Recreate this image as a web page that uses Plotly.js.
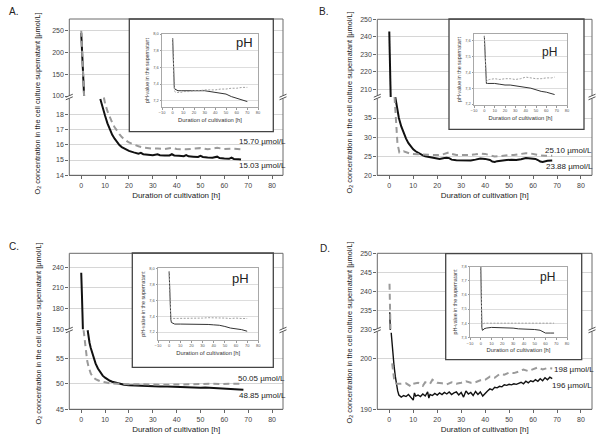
<!DOCTYPE html>
<html><head><meta charset="utf-8">
<script src="https://cdn.plot.ly/plotly-3.0.1.min.js"></script>
<style>html,body{margin:0;padding:0;background:#fff}#chart{width:600px;height:446px}</style>
</head><body><div id="chart"></div>
<script>
// ---------------- DATA ----------------
const xTicks = [0, 10, 20, 30, 40, 50, 60, 70, 80];
const insetXTicks = [-10, 0, 10, 20, 30, 40, 50, 60, 70, 80];
const yTicksLower = [[14, 15, 16, 17, 18], [20, 25, 30, 35], [45, 50, 55], [190, 200]];
const yTicksUpper = [[100, 150, 200, 250], [210, 220, 230, 240, 250], [150, 180, 210, 240], [230, 235, 240, 245, 250]];
const pHTicks = [[7.2, 7.4, 7.6, 7.8, 8.0], [7.2, 7.3, 7.4, 7.5, 7.6], [7.2, 7.4, 7.6, 7.8, 8.0], [7.3, 7.4, 7.5, 7.6, 7.7, 7.8]];
const panelLetters = ['A.', 'B.', 'C.', 'D.'];
const endLabels = [['15.70 µmol/L', '15.03 µmol/L'], ['25.10 µmol/L', '23.88 µmol/L'], ['50.05 µmol/L', '48.85 µmol/L'], ['198 µmol/L', '196 µmol/L']];
const xTitle = 'Duration of cultivation [h]';
const yTitle = 'O<sub>2</sub> concentration in the cell culture supernatant [µmol/L]';
const insetYTitle = 'pH-value in the supernatant';

// Panel A – O2
const tA_black = [0, 0.4, 0.8, 1.2, null, 8, 9, 10, 11, 12, 13, 14, 15, 16, 17, 18, 19, 20, 22, 24, 25, 26, 28, 30, 32, 33, 35, 37, 38, 39, 41, 43, 44, 45, 47, 49, 50, 51, 53, 55, 57, 58, 60, 62, 63, 64, 66, 67];
const oA_black = [245, 205, 150, 100, null, 19.0, 18.4, 17.9, 17.4, 17.0, 16.65, 16.4, 16.15, 15.98, 15.85, 15.75, 15.68, 15.6, 15.5, 15.42, 15.47, 15.38, 15.35, 15.32, 15.38, 15.32, 15.3, 15.3, 15.38, 15.3, 15.28, 15.25, 15.32, 15.24, 15.22, 15.2, 15.28, 15.2, 15.17, 15.15, 15.22, 15.13, 15.1, 15.08, 15.16, 15.07, 15.05, 15.03];
const tA_grey = [0, 0.4, 0.8, 1.2, null, 9.5, 10, 11, 12, 13, 14, 15, 16, 17, 18, 19, 20, 22, 24, 26, 28, 30, 32, 35, 38, 40, 44, 47, 50, 53, 57, 60, 63, 67];
const oA_grey = [250, 210, 155, 100, null, 19.1, 18.7, 18.2, 17.8, 17.45, 17.15, 16.9, 16.7, 16.5, 16.35, 16.25, 16.15, 16.0, 15.9, 15.82, 15.78, 15.75, 15.75, 15.72, 15.8, 15.72, 15.7, 15.72, 15.78, 15.7, 15.8, 15.72, 15.75, 15.7];

// Panel B – O2
const tB_black = [0, 0.2, 0.3, 0.6, null, 2.5, 3, 3.5, 4, 5, 6, 7, 8, 9, 10, 11, 12, 13, 14, 15, 17, 19, 21, 23, 24, 25, 26, 28, 30, 32, 34, 36, 38, 40, 42, 43, 44, 45, 47, 49, 51, 53, 55, 57, 59, 61, 62, 63, 64, 65, 66, 68];
const oB_black = [243, 232, 228, 205, null, 40.5, 38.5, 36.5, 35, 32.8, 31, 29.6, 28.4, 27.5, 26.8, 26.3, 25.9, 25.5, 25.2, 25.0, 24.7, 24.4, 24.3, 24.5, 24.6, 24.5, 24.1, 23.95, 23.9, 24.0, 23.85, 24.1, 24.4, 24.3, 24.0, 23.6, 23.5, 23.7, 23.9, 24.0, 24.1, 24.0, 24.2, 24.5, 24.4, 24.3, 24.0, 23.6, 23.5, 23.7, 23.8, 23.88];
const tB_grey = [2.2, 2.8, 3.4, 4.2, 5, 6, 7, 9, 12, 15, 18, 20, 22, 24, 25, 26, 28, 30, 33, 36, 38, 40, 42, 44, 46, 48, 50, 52, 55, 57, 59, 61, 63, 65, 68];
const oB_grey = [40.5, 34, 28.4, 26.0, 26.0, 26.3, 26.0, 25.6, 25.5, 25.4, 25.3, 25.3, 25.4, 25.9, 26.0, 25.6, 25.3, 25.3, 25.3, 25.5, 25.7, 25.6, 25.3, 24.9, 25.0, 25.2, 25.3, 25.3, 25.5, 25.8, 25.7, 25.4, 25.2, 25.1, 25.1];

// Panel C – O2
const tC_black = [0, 0.15, 0.3, 0.5, 0.7, null, 2.7, 3, 3.5, 4, 5, 6, 7, 8, 9, 10, 11, 12, 13, 14, 15, 16, 18, 20, 22, 25, 28, 30, 33, 36, 38, 39, 40, 42, 45, 48, 50, 52, 55, 58, 60, 63, 65, 68];
const oC_black = [232, 222, 200, 175, 150, null, 60.5, 59.3, 58.0, 57.0, 55.3, 54.0, 53.0, 52.2, 51.6, 51.2, 50.85, 50.6, 50.4, 50.25, 50.1, 50.0, 49.8, 49.7, 49.65, 49.6, 49.55, 49.5, 49.47, 49.45, 49.4, 49.5, 49.37, 49.38, 49.3, 49.28, 49.25, 49.26, 49.2, 49.12, 49.1, 49.0, 48.95, 48.85];
const tC_grey = [1.0, 1.5, 2, 2.5, 3, 3.5, 4, 5, 6, 7, 8, 10, 12, 15, 18, 20, 22, 25, 28, 30, 33, 36, 38, 40, 43, 46, 49, 52, 55, 58, 61, 64, 68];
const oC_grey = [60.5, 58, 56, 54.5, 53.5, 52.6, 52.0, 51.3, 50.9, 50.7, 50.5, 50.3, 50.1, 50.0, 49.9, 49.85, 49.9, 49.9, 49.85, 49.8, 49.85, 49.8, 49.85, 49.9, 49.85, 49.9, 49.95, 49.9, 50.0, 49.95, 50.0, 49.95, 50.05];

// Panel D – O2
const tD_black = [0.2, 0.3, 0.45, null, 0.8, 1.2, 1.6, 2, 2.5, 3, 3.5, 4, 5, 6, 7, 8, 9, 10, 10.5, 11, 12, 13, 14, 15, 16, 16.5, 17, 18, 19, 20, 21, 22, 23, 24, 25, 26, 27, 28, 29, 30, 31, 32, 33, 34, 35, 36, 37, 38, 39, 40, 41, 42, 43, 44, 45, 46, 47, 48, 49, 50, 51, 52, 53, 54, 55, 56, 57, 58, 59, 60, 61, 62, 63, 64, 65, 66, 67, 68];
const oD_black = [234.5, 232, 229.5, null, 205, 202.5, 200.5, 198.5, 196.5, 194.8, 193.6, 192.8, 192.4, 192.7, 192.5, 192.9, 192.3, 191.8, 193.2, 192.6, 192.8, 192.5, 193.0, 192.6, 193.4, 192.2, 192.9, 192.7, 193.1, 192.8, 193.2, 192.9, 193.3, 193.0, 193.4, 192.9, 193.2, 193.4, 192.8, 193.3, 192.4, 193.6, 193.0, 193.3, 192.7, 193.5, 192.9, 193.4, 192.6, 193.2, 193.6, 194.0, 193.8, 194.3, 194.2, 194.5, 194.4, 194.8, 194.7, 194.9, 194.8, 195.0, 194.9, 195.1, 195.3, 195.0, 195.5, 195.2, 195.6, 195.4, 195.8, 195.5, 196.0, 195.6, 196.2, 195.8, 196.3, 196.0];
const tD_grey = [0.1, 0.3, 0.5, null, 1.2, 1.5, 2, 2.5, 3, 5, 7, 9, 10, 12, 14, 15, 17, 18, 20, 22, 24, 26, 28, 30, 32, 34, 36, 38, 40, 42, 44, 46, 48, 50, 52, 54, 56, 58, 60, 62, 64, 66, 68];
const oD_grey = [242, 236, 230, null, 199, 197.5, 196, 195.3, 195.0, 195.0, 195.1, 194.5, 195.0, 195.2, 194.6, 195.3, 195.0, 195.8, 195.2, 195.1, 194.9, 195.3, 195.0, 195.2, 195.5, 195.2, 195.3, 195.7, 195.8, 196.4, 196.2, 196.9, 196.8, 197.2, 197.1, 197.4, 197.8, 197.5, 197.9, 198.2, 197.8, 198.1, 198.0];

// Insets – pH
const tA_pH = [0, 0.5, 1, 1.5, 2, 3, 5, 8, 10, 15, 20, 25, 30, 35, 40, 45, 50, 55, 60, 65, 70];
const pHA_black = [7.95, 7.6, 7.42, 7.36, 7.34, 7.33, 7.32, 7.32, 7.32, 7.32, 7.32, 7.32, 7.32, 7.31, 7.30, 7.29, 7.28, 7.25, 7.23, 7.21, 7.19];
const pHA_grey = [7.95, 7.6, 7.42, 7.34, 7.31, 7.30, 7.30, 7.30, 7.31, 7.31, 7.32, 7.32, 7.33, 7.33, 7.33, 7.34, 7.34, 7.35, 7.35, 7.36, 7.36];
const tB_pH = [0, 0.5, 1, 1.5, 2, 3, 5, 10, 15, 20, 25, 30, 35, 40, 45, 50, 55, 60, 65, 68];
const pHB_black = [7.63, 7.55, 7.45, 7.37, 7.33, 7.33, 7.33, 7.33, 7.325, 7.32, 7.32, 7.315, 7.31, 7.305, 7.30, 7.29, 7.28, 7.275, 7.265, 7.26];
const pHB_grey = [7.63, 7.55, 7.45, 7.37, 7.34, 7.35, 7.355, 7.36, 7.355, 7.36, 7.36, 7.355, 7.36, 7.37, 7.365, 7.36, 7.36, 7.365, 7.365, 7.37];
const tC_pH = [0, 0.5, 1, 1.5, 2, 3, 5, 10, 15, 20, 25, 30, 35, 40, 45, 50, 55, 60, 65, 70];
const pHC_black = [7.96, 7.7, 7.45, 7.36, 7.32, 7.31, 7.30, 7.30, 7.30, 7.30, 7.30, 7.295, 7.295, 7.29, 7.285, 7.27, 7.25, 7.24, 7.23, 7.21];
const pHC_grey = [7.96, 7.7, 7.45, 7.38, 7.37, 7.37, 7.37, 7.37, 7.37, 7.375, 7.37, 7.375, 7.38, 7.38, 7.375, 7.375, 7.37, 7.375, 7.37, 7.37];
const tD_pH = [0, 0.3, 0.6, 1, 1.5, 2, 3, 5, 10, 15, 20, 25, 30, 35, 40, 45, 50, 55, 58, 60, 65, 68];
const pHD_black = [7.8, 7.6, 7.45, 7.37, 7.35, 7.35, 7.36, 7.365, 7.37, 7.37, 7.37, 7.37, 7.365, 7.36, 7.36, 7.36, 7.355, 7.35, 7.34, 7.33, 7.33, 7.33];
const pHD_grey = [7.8, 7.6, 7.45, 7.39, 7.39, 7.395, 7.40, 7.40, 7.40, 7.40, 7.40, 7.40, 7.40, 7.40, 7.40, 7.40, 7.40, 7.40, 7.40, 7.40, 7.40, 7.40];

// ---------------- LAYOUT GEOMETRY (pixels) ----------------
const W = 600, H = 446;
const px = v => v / W;
const py = v => 1 - v / H;

const geo = [
  {x0: 69.3, x1: 283, top: 19, brk: 97, bot: 175.3, lo: [14, 19.13], up: [97.7, 276.9]},
  {x0: 377.3, x1: 592, top: 19.3, brk: 97, bot: 175.3, lo: [20, 40.5], up: [205.6, 250]},
  {x0: 69.3, x1: 283, top: 253.3, brk: 330, bot: 409.3, lo: [45, 60.55], up: [149, 260.3]},
  {x0: 377.3, x1: 592, top: 253.3, brk: 330, bot: 409.3, lo: [190, 205.55], up: [229.8, 250]}
];
const igeo = [
  {ox0: 129.3, ox1: 273.3, oy0: 19, oy1: 131.7, x0: 162, x1: 258, y0: 34, y1: 107, yr: [7.125, 8.0], ph: [244, 43, 13]},
  {ox0: 449, ox1: 584, oy0: 19, oy1: 129.3, x0: 474, x1: 567, y0: 34, y1: 105, yr: [7.194, 7.642], ph: [549, 51.5, 12]},
  {ox0: 132.3, ox1: 273.3, oy0: 253, oy1: 367.3, x0: 158, x1: 258.3, y0: 268.3, y1: 340, yr: [7.1, 8.0], ph: [240, 278, 13]},
  {ox0: 445.7, ox1: 581.7, oy0: 253.7, oy1: 359.7, x0: 470, x1: 567, y0: 266.7, y1: 337.3, yr: [7.3, 7.8], ph: [547.5, 277, 12]}
];
const letterPos = [[7, 12], [316.7, 11.7], [7.3, 246.3], [318.3, 248]];
const yTitlePos = [[38, 103.5], [349, 102.5], [38, 333.5], [349.5, 333]];
const endLabelPos = [[[237.3, 141.7], [237.3, 165]], [[543.3, 150], [544, 166.7]], [[236, 378.3], [236.7, 395.7]], [[551.7, 369.7], [550, 385.3]]];

const mainSeries = [
  {tb: tA_black, ob: oA_black, tg: tA_grey, og: oA_grey, bw: 2},
  {tb: tB_black, ob: oB_black, tg: tB_grey, og: oB_grey, bw: 2},
  {tb: tC_black, ob: oC_black, tg: tC_grey, og: oC_grey, bw: 2},
  {tb: tD_black, ob: oD_black, tg: tD_grey, og: oD_grey, bw: 1.4}
];
const insetSeries = [
  {t: tA_pH, b: pHA_black, g: pHA_grey},
  {t: tB_pH, b: pHB_black, g: pHB_grey},
  {t: tC_pH, b: pHC_black, g: pHC_grey},
  {t: tD_pH, b: pHD_black, g: pHD_grey}
];

const FONT = 'Liberation Sans, Arial, Helvetica, sans-serif';
const axName = (l, n) => l + 'axis' + (n === 1 ? '' : n);
const axId = (l, n) => l + (n === 1 ? '' : n);

const layout = {
  width: W, height: H, margin: {l: 0, r: 0, t: 0, b: 0},
  paper_bgcolor: '#ffffff', plot_bgcolor: '#ffffff', showlegend: false,
  separators: ',.',
  font: {family: FONT, color: '#333', size: 8},
  shapes: [], annotations: []
};
const traces = [];

// main panels
geo.forEach((g, i) => {
  const xn = i + 1, yl = 2 * i + 1, yu = 2 * i + 2;
  layout[axName('x', xn)] = {
    domain: [px(g.x0), px(g.x1)], range: [-5, 84.6], anchor: axId('y', yl),
    tickvals: xTicks, ticks: 'outside', ticklen: 3, tickcolor: '#666',
    showline: true, linecolor: '#666', linewidth: 1, showgrid: false, zeroline: false,
    tickfont: {size: 7, color: '#444'},
    title: {text: xTitle, font: {size: 8, color: '#222'}, standoff: 4}
  };
  const yCommon = {
    anchor: axId('x', xn), ticks: 'outside', ticklen: 3, tickcolor: '#666',
    showline: false, showgrid: true, gridcolor: '#d6d6d6', gridwidth: 1, zeroline: false,
    tickfont: {size: 7, color: '#444'}
  };
  layout[axName('y', yl)] = Object.assign({domain: [py(g.bot), py(g.brk)], range: g.lo, tickvals: yTicksLower[i]}, yCommon);
  layout[axName('y', yu)] = Object.assign({domain: [py(g.brk), py(g.top)], range: g.up, tickvals: yTicksUpper[i]}, yCommon);

  const s = mainSeries[i];
  [axId('y', yl), axId('y', yu)].forEach(yid => {
    traces.push({x: s.tb, y: s.ob, xaxis: axId('x', xn), yaxis: yid, mode: 'lines',
      line: {color: '#111', width: s.bw}, connectgaps: false, hoverinfo: 'skip'});
  });
  [axId('y', yl), axId('y', yu)].forEach(yid => {
    traces.push({x: s.tg, y: s.og, xaxis: axId('x', xn), yaxis: yid, mode: 'lines',
      line: {color: '#9a9a9a', width: 2, dash: '6px,4px'}, connectgaps: false, hoverinfo: 'skip'});
  });

  // frame
  layout.shapes.push({type: 'rect', xref: 'paper', yref: 'paper', layer: 'above',
    x0: px(g.x0), x1: px(g.x1), y0: py(g.bot), y1: py(g.top), line: {color: '#6a6a6a', width: 1}, fillcolor: 'rgba(0,0,0,0)'});
  // axis break marks on both sides
  [g.x0, g.x1].forEach(X => {
    layout.shapes.push({type: 'rect', xref: 'paper', yref: 'paper', layer: 'above',
      x0: px(X - 2), x1: px(X + 2), y0: py(g.brk + 1.6), y1: py(g.brk - 1.2), line: {width: 0}, fillcolor: '#ffffff'});
    layout.shapes.push({type: 'line', xref: 'paper', yref: 'paper', layer: 'above',
      x0: px(X - 3.5), y0: py(g.brk + 0.2), x1: px(X + 3.5), y1: py(g.brk - 2.8), line: {color: '#555', width: 1}});
    layout.shapes.push({type: 'line', xref: 'paper', yref: 'paper', layer: 'above',
      x0: px(X - 3.5), y0: py(g.brk + 2.8), x1: px(X + 3.5), y1: py(g.brk - 0.2), line: {color: '#555', width: 1}});
  });

  layout.annotations.push({text: panelLetters[i], xref: 'paper', yref: 'paper', x: px(letterPos[i][0]), y: py(letterPos[i][1]),
    xanchor: 'left', yanchor: 'middle', showarrow: false, font: {size: 10, color: '#222'}});
  layout.annotations.push({text: yTitle, textangle: -90, xref: 'paper', yref: 'paper', x: px(yTitlePos[i][0]), y: py(yTitlePos[i][1]),
    xanchor: 'center', yanchor: 'middle', showarrow: false, font: {size: 7.4, color: '#222'}});
  endLabels[i].forEach((txt, k) => {
    layout.annotations.push({text: txt, xref: 'paper', yref: 'paper', x: px(endLabelPos[i][k][0]), y: py(endLabelPos[i][k][1]),
      xanchor: 'left', yanchor: 'middle', showarrow: false, font: {size: 8, color: '#222'}});
  });
});

// white backing subplots for the inset boxes
igeo.forEach((g, i) => {
  const xn = 5 + i, yn = 9 + i;
  layout[axName('x', xn)] = {domain: [px(g.ox0), px(g.ox1)], anchor: axId('y', yn), range: [0, 1], visible: false, fixedrange: true};
  layout[axName('y', yn)] = {domain: [py(g.oy1), py(g.oy0)], anchor: axId('x', xn), range: [0, 1], visible: false, fixedrange: true};
  traces.push({x: [null], y: [null], xaxis: axId('x', xn), yaxis: axId('y', yn), mode: 'lines', hoverinfo: 'skip'});
});

// insets
igeo.forEach((g, i) => {
  const xn = 9 + i, yn = 13 + i;
  layout[axName('x', xn)] = {
    domain: [px(g.x0), px(g.x1)], range: [-10, 80], anchor: axId('y', yn),
    tickvals: insetXTicks, ticks: 'outside', ticklen: 1.5, tickcolor: '#999',
    showline: true, mirror: true, linecolor: '#a8a8a8', linewidth: 1, showgrid: false, zeroline: false,
    tickfont: {size: 4, color: '#555'},
    title: {text: xTitle, font: {size: 5.8, color: '#333'}, standoff: 3}
  };
  layout[axName('y', yn)] = {
    domain: [py(g.y1), py(g.y0)], range: g.yr, anchor: axId('x', xn),
    tickvals: pHTicks[i], tickformat: '.1f', ticks: 'outside', ticklen: 1.5, tickcolor: '#999',
    showline: true, mirror: true, linecolor: '#a8a8a8', linewidth: 1, showgrid: true, gridcolor: '#dddddd', zeroline: false,
    tickfont: {size: 4, color: '#555'},
    title: {text: insetYTitle, font: {size: 5.3, color: '#333'}, standoff: 3}
  };
  const s = insetSeries[i];
  traces.push({x: s.t, y: s.b, xaxis: axId('x', xn), yaxis: axId('y', yn), mode: 'lines',
    line: {color: '#333', width: 1}, hoverinfo: 'skip'});
  traces.push({x: s.t, y: s.g, xaxis: axId('x', xn), yaxis: axId('y', yn), mode: 'lines',
    line: {color: '#a0a0a0', width: 1, dash: '2px,1.5px'}, hoverinfo: 'skip'});

  layout.shapes.push({type: 'rect', xref: 'paper', yref: 'paper', layer: 'above',
    x0: px(g.ox0), x1: px(g.ox1), y0: py(g.oy1), y1: py(g.oy0), line: {color: '#444', width: 1.3}, fillcolor: 'rgba(0,0,0,0)'});
  layout.annotations.push({text: 'pH', xref: 'paper', yref: 'paper', x: px(g.ph[0]), y: py(g.ph[1]),
    xanchor: 'center', yanchor: 'middle', showarrow: false, font: {size: g.ph[2], color: '#222'}});
});

Plotly.newPlot('chart', traces, layout, {staticPlot: true, displayModeBar: false});
</script></body></html>
